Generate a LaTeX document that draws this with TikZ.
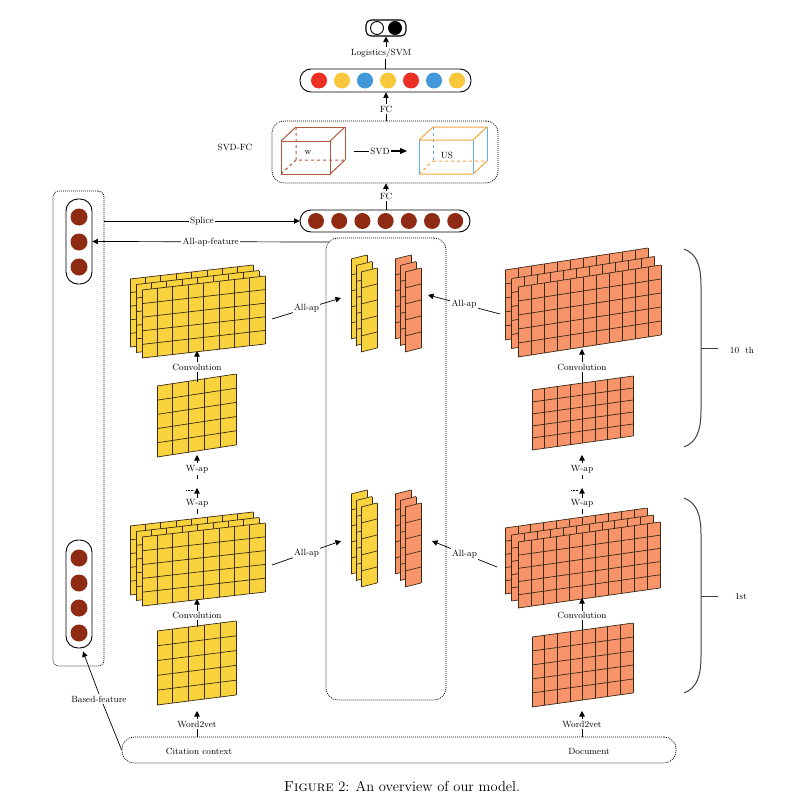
\documentclass[tikz,border=0pt]{standalone}
\usetikzlibrary{arrows.meta}
\definecolor{yel}{HTML}{F9D33E}
\definecolor{ora}{HTML}{F7946A}
\definecolor{gridc}{HTML}{3B2A14}
\definecolor{brn}{HTML}{8E2B12}
\definecolor{cred}{HTML}{EC3025}
\definecolor{cyel}{HTML}{F9C73C}
\definecolor{cblu}{HTML}{4298D8}
\definecolor{cubeb}{HTML}{B05A3C}
\definecolor{cubeo}{HTML}{F4A63E}
\definecolor{cubeu}{HTML}{5DB3EA}
\tikzset{
 gridl/.style={draw=gridc, line width=0.7pt},
 lbl/.style={font=\fontsize{9}{10}\selectfont, inner sep=1.5pt},
 lblw/.style={lbl, fill=white},
 arr/.style={-{Triangle[width=5.5pt,length=5.5pt]}, line width=0.7pt},
 ln/.style={line width=0.7pt},
 barbox/.style={draw, line width=0.9pt, rounded corners=11pt},
 dotbox/.style={draw, line width=0.7pt, dash pattern=on 1pt off 1pt, rounded corners=12pt},
 neuron/.style={circle, inner sep=0pt, minimum size=16pt},
 bracel/.style={draw=black!75, line width=1pt},
 dotsl/.style={line width=0.6pt, dash pattern=on 0.6pt off 1pt},
}
% x y w h slope cols rows fill
\newcommand\slgrid[8]{%
  \fill[#8] (#1,#2) -- ++(#3,-#5) -- ++(0,#4) -- ++(-#3,#5) -- cycle;
  \foreach \i in {0,...,#6}{\draw[gridl] ({#1+\i*#3/#6},{#2-\i*#5/#6}) -- ++(0,#4);}
  \foreach \j in {0,...,#7}{\draw[gridl] (#1,{#2+\j*#4/#7}) -- ++(#3,-#5);}
}
\begin{document}
\begin{tikzpicture}[x=1pt,y=-1pt]
\useasboundingbox (0,0) rectangle (806,808);
\fill[white] (0,0) rectangle (806,808);

% ---------- top output ----------
\node[draw, line width=1.1pt, rounded corners=5pt, minimum width=40pt, minimum height=16pt] (out) at (386,28) {};
\node[neuron, minimum size=13pt, draw, line width=0.9pt, fill=white] (o1) at (377,28) {};
\node[neuron, minimum size=13pt, draw, line width=0.9pt, fill=black] (o2) at (395,28) {};
\node[lbl] (logl) at (381,53) {Logistics/SVM};
\node[barbox, minimum width=171pt, minimum height=23pt] (colbar) at (385.5,80.5) {};
\foreach \c [count=\k from 0] in {cred,cyel,cblu,cyel,cred,cblu,cyel}
  \node[neuron, fill=\c] (cc\k) at ({319+23*\k},80.5) {};
\draw[arr] (logl.north -| out.south) -- (out.south);
\draw[ln] (colbar.north) -- (logl.south -| colbar.north);

\node[lbl] (fc1) at (386,109) {FC};
\node[dotbox, minimum width=226pt, minimum height=62pt] (svdbox) at (385,152) {};
\draw[arr] (fc1.north) -- (colbar.south -| fc1.north);
\draw[ln] (svdbox.north -| fc1.south) -- (fc1.south);
\node[lbl] (svdfc) at (235,147) {SVD-FC};

% left cube
\begin{scope}[cubeb, line width=1pt]
\draw (281,141) rectangle (330,174);
\draw (296,127) -- (345,127) -- (345,160);
\draw (281,141) -- (296,127) (330,141) -- (345,127) (330,174) -- (345,160);
\draw[dashed] (296,127) -- (296,160) -- (345,160) (281,174) -- (296,160);
\end{scope}
\node[lbl] (wl) at (308,153) {w};
% right cube
\begin{scope}[line width=1pt]
\draw[cubeu, dashed] (433,127) -- (433,161);
\draw[cubeo, dashed] (433,161) -- (487,161) (419,174) -- (433,161);
\draw[cubeo] (419,140) -- (473,140) (419,174) -- (473,174) (433,127) -- (487,127)
  (419,140) -- (433,127) (473,140) -- (487,127) (473,174) -- (487,161);
\draw[cubeu] (419,140) -- (419,174) (473,140) -- (473,174) (487,127) -- (487,161);
\end{scope}
\node[lbl] (usl) at (447,155) {US};
\node[lbl] (svdl) at (380,151) {SVD};
\coordinate (svdA) at (354,151);
\coordinate (svdB) at (407,151);
\draw[ln] (svdA) -- (svdl.west);
\draw[-{Triangle[width=6pt,length=7pt]}, line width=1.2pt] (svdl.east) -- (svdB);

\node[lbl] (fc2) at (386,196) {FC};
\node[barbox, minimum width=170pt, minimum height=22pt] (brbar) at (385,221) {};
\draw[arr] (fc2.north) -- (svdbox.south -| fc2.north);
\draw[ln] (brbar.north -| fc2.south) -- (fc2.south);
\foreach \k in {0,...,6} \node[neuron, fill=brn] (bc\k) at ({316+23.2*\k},221) {};

% ---------- left feature column ----------
\node[dotbox, rounded corners=6pt, minimum width=51pt, minimum height=475pt] (leftbox) at (78.5,428.5) {};
\node[barbox, rounded corners=12pt, minimum width=26pt, minimum height=85pt] (topbar) at (79,241.5) {};
\foreach \k in {0,1,2} \node[neuron, minimum size=17pt, fill=brn] (tb\k) at (79,{217+25*\k}) {};
\node[barbox, rounded corners=12pt, minimum width=26pt, minimum height=108pt] (lowbar) at (79,594) {};
\foreach \k in {0,...,3} \node[neuron, minimum size=17pt, fill=brn] (lb\k) at (79,{558+25*\k}) {};

\draw[arr] (leftbox.east |- brbar.west) -- node[lblw] (splice) {Splice} (brbar.west);
\coordinate (afs) at (329,242);
\draw[arr] (afs) -- node[lblw] (allapf) {All-ap-feature} (topbar.east);

% ---------- middle box ----------
\node[dotbox, minimum width=120pt, minimum height=462pt] (midbox) at (386,469) {};
\foreach \dy in {0,235}{
  \slgrid{351}{259+\dy}{16}{80}{4}{1}{5}{yel}
  \slgrid{356}{265.5+\dy}{16}{80}{4}{1}{5}{yel}
  \slgrid{361}{272+\dy}{16}{80}{4}{1}{5}{yel}
  \slgrid{395}{259+\dy}{16}{80}{4}{1}{5}{ora}
  \slgrid{400}{265.5+\dy}{16}{80}{4}{1}{5}{ora}
  \slgrid{405}{272+\dy}{16}{80}{4}{1}{5}{ora}
}

% ---------- yellow maps ----------
\slgrid{130}{279}{123}{68}{14}{8}{5}{yel}
\slgrid{136}{284.5}{123}{68}{14}{8}{5}{yel}
\slgrid{142}{290}{123}{68}{14}{8}{5}{yel}
\slgrid{157}{386}{79}{71}{12}{5}{5}{yel}
\slgrid{130}{526}{123}{69}{14}{8}{5}{yel}
\slgrid{136}{531.5}{123}{69}{14}{8}{5}{yel}
\slgrid{142}{537}{123}{69}{14}{8}{5}{yel}
\slgrid{157}{631}{79}{74}{10}{5}{5}{yel}

% ---------- orange maps ----------
\slgrid{505}{270}{143}{70}{22}{11}{5}{ora}
\slgrid{511.5}{278.5}{143}{70}{22}{11}{5}{ora}
\slgrid{518}{287}{143}{70}{22}{11}{5}{ora}
\slgrid{532}{390}{101}{60}{14}{8}{5}{ora}
\slgrid{505}{528}{142}{66}{20}{11}{5}{ora}
\slgrid{511.5}{535}{142}{66}{20}{11}{5}{ora}
\slgrid{518}{542}{142}{66}{20}{11}{5}{ora}
\slgrid{532}{637}{101}{70}{14}{8}{5}{ora}

% ---------- All-ap arrows ----------
\coordinate (aaUL1) at (272,319); \coordinate (aaUL2) at (341,298);
\draw[arr] (aaUL1) -- node[lblw] (aaUL) {All-ap} (aaUL2);
\coordinate (aaUR1) at (500,314); \coordinate (aaUR2) at (428,295);
\draw[arr] (aaUR1) -- node[lblw] (aaUR) {All-ap} (aaUR2);
\coordinate (aaLL1) at (272,565); \coordinate (aaLL2) at (341,541);
\draw[arr] (aaLL1) -- node[lblw] (aaLL) {All-ap} (aaLL2);
\coordinate (aaLR1) at (497,567); \coordinate (aaLR2) at (432,541);
\draw[arr] (aaLR1) -- node[lblw] (aaLR) {All-ap} (aaLR2);

% ---------- vertical flow, both columns ----------
\foreach \cx/\nm/\tcu/\mtu/\mtl/\tcl in {197/L/351/382/627/599, 582/R/349/383/630/598}{
  \node[lbl] (convU\nm) at (\cx,367) {Convolution};
  \coordinate (tConvU\nm) at (\cx,\tcu);
  \draw[arr] (convU\nm.north) -- (tConvU\nm);
  \coordinate (mUtop\nm) at (\cx,\mtu);
  \draw[ln] (mUtop\nm) -- (convU\nm.south);
  \node[lbl] (wapA\nm) at (\cx,469) {W-ap};
  \coordinate (tWap\nm) at (\cx,455);
  \draw[arr] (wapA\nm.north) -- (tWap\nm);
  \draw[ln] (wapA\nm.south) -- ++(0,4);
  \node[lbl] (wapB\nm) at (\cx,503.5) {W-ap};
  \coordinate (tDots\nm) at (\cx,488);
  \draw[arr] (wapB\nm.north) -- (tDots\nm);
  \draw[dotsl] ({\cx-11},490) -- ({\cx-3},490);
  \coordinate (sTop\nm) at (\cx,514);
  \draw[ln] (sTop\nm) -- (wapB\nm.south);
  \node[lbl] (convL\nm) at (\cx,615.5) {Convolution};
  \coordinate (tConvL\nm) at (\cx,\tcl);
  \draw[arr] (convL\nm.north) -- (tConvL\nm);
  \coordinate (mLtop\nm) at (\cx,\mtl);
  \draw[ln] (mLtop\nm) -- (convL\nm.south);
}

% ---------- bottom ----------
\node[dotbox, minimum width=554pt, minimum height=26pt, rounded corners=12pt] (botbox) at (399,750) {};
\node[lbl] (cit) at (199,751) {Citation context};
\node[lbl] (doc) at (589,751) {Document};
\node[lbl] (w2vL) at (197,724) {Word2vet};
\node[lbl] (w2vR) at (582,724) {Word2vet};
\coordinate (tW2L) at (197,711);
\coordinate (tW2R) at (582,711);
\draw[ln] (botbox.north -| w2vL.south) -- (w2vL.south);
\draw[arr] (w2vL.north) -- (tW2L);
\draw[ln] (botbox.north -| w2vR.south) -- (w2vR.south);
\draw[arr] (w2vR.north) -- (tW2R);

\node[lbl] (bf) at (99,699) {Based-feature};
\draw[arr] (bf.north) -- ([shift={(4,3)}]lowbar.south);
\draw[ln] ([xshift=4pt]bf.south) -- (botbox.west);

% ---------- braces ----------
\draw[bracel] (684,249) .. controls (697,254) and (701,266) .. (701,286) -- (701,410) .. controls (701,430) and (697,442) .. (684,447);
\draw[bracel] (701,348) -- (718,348);
\node[lbl] (tenth) at (742,350) {10\ \ th};
\draw[bracel] (684,498) .. controls (697,503) and (701,515) .. (701,535) -- (701,656) .. controls (701,676) and (697,688) .. (684,693);
\draw[bracel] (701,596) -- (718,596);
\node[lbl] (first) at (741,597) {1st};

% ---------- caption ----------
\node[font=\fontsize{14.5}{17}\selectfont] (cap) at (402,786) {\textsc{Figure} 2: An overview of our model.};
\end{tikzpicture}
\end{document}
